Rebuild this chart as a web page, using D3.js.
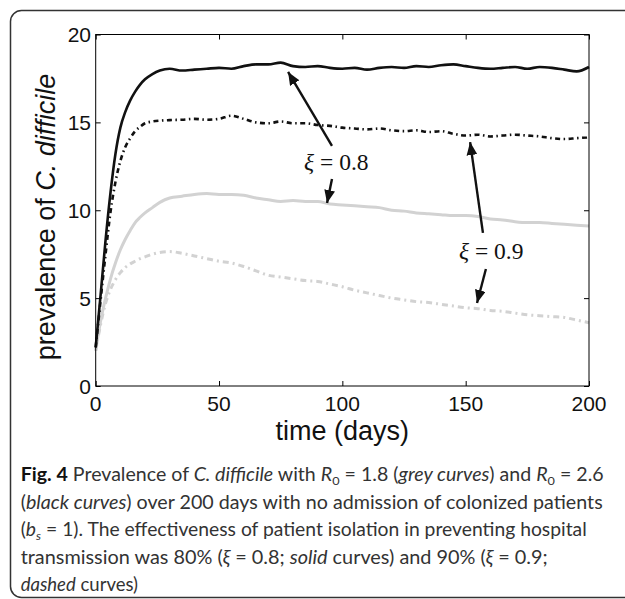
<!DOCTYPE html>
<html>
<head>
<meta charset="utf-8">
<script src="https://cdn.jsdelivr.net/npm/d3@7"></script>
<style>
  body { margin: 0; background: #fff; }
  svg { display: block; }
  .axis-frame { fill: none; stroke: #000; stroke-width: 1; }
  .tick-label { font-family: "Liberation Sans", Arial, sans-serif; font-size: 21px; fill: #111; }
  .axis-title { font-family: "Liberation Sans", Arial, sans-serif; font-size: 27px; fill: #111; }
  .note { font-family: "Liberation Serif", "DejaVu Serif", serif; font-size: 23.5px; fill: #111; }
  .caption { font-family: Lato, "Open Sans", sans-serif; font-size: 18.5px; fill: #333; }
</style>
</head>
<body>
<svg width="625" height="599"></svg>
<script>
// time points (days)
var days = [0, 2, 4, 6, 8, 10, 12, 14, 16, 18, 20, 23, 26, 30, 35, 40, 45, 50, 55, 60,
    65, 70, 75, 80, 85, 90, 95, 100, 105, 110, 115, 120, 125, 130, 135, 140, 145, 150,
    155, 160, 165, 170, 175, 180, 185, 190, 195, 200];

// R0 = 2.6, xi = 0.8 (black solid)
var blackSolid = [2.2, 5.2, 8.3, 11.0, 13.2, 14.7, 15.6, 16.25, 16.75, 17.15, 17.45, 17.75, 17.95, 18.05, 17.95, 18.0,
    18.05, 18.1, 18.05, 18.2, 18.3, 18.3, 18.4, 18.2, 18.15, 18.2, 18.1, 18.05, 18.1, 18.0, 18.1, 18.15,
    18.1, 18.2, 18.15, 18.25, 18.3, 18.2, 18.1, 18.05, 18.1, 18.15, 18.05, 18.15, 18.1, 18.0, 17.9, 18.15];

// R0 = 2.6, xi = 0.9 (black dashed)
var blackDashed = [2.2, 4.9, 7.5, 9.9, 11.6, 12.8, 13.6, 14.1, 14.5, 14.75, 14.95, 15.05, 15.1, 15.13, 15.15, 15.2,
    15.15, 15.2, 15.38, 15.2, 15.0, 14.95, 15.05, 14.95, 14.95, 14.85, 14.8, 14.7, 14.65, 14.6, 14.65, 14.55,
    14.5, 14.55, 14.45, 14.5, 14.35, 14.25, 14.3, 14.2, 14.25, 14.3, 14.25, 14.2, 14.1, 14.05, 14.1, 14.15];

// R0 = 1.8, xi = 0.8 (grey solid)
var greySolid = [2.0, 3.7, 5.0, 6.1, 7.0, 7.75, 8.35, 8.85, 9.3, 9.6, 9.85, 10.15, 10.45, 10.7, 10.8, 10.9,
    10.95, 10.9, 10.9, 10.85, 10.7, 10.6, 10.5, 10.55, 10.5, 10.5, 10.35, 10.3, 10.25, 10.2, 10.15, 10.0,
    9.95, 9.85, 9.8, 9.75, 9.7, 9.7, 9.65, 9.5, 9.45, 9.35, 9.3, 9.3, 9.25, 9.2, 9.15, 9.1];

// R0 = 1.8, xi = 0.9 (grey dashed)
var greyDashed = [2.0, 3.5, 4.7, 5.5, 6.05, 6.45, 6.75, 6.95, 7.1, 7.25, 7.35, 7.5, 7.6, 7.65, 7.55, 7.4,
    7.25, 7.1, 7.0, 6.8, 6.55, 6.3, 6.2, 6.1, 6.0, 5.95, 5.8, 5.65, 5.45, 5.3, 5.15, 5.0,
    4.9, 4.8, 4.75, 4.65, 4.55, 4.45, 4.4, 4.3, 4.25, 4.15, 4.05, 4.0, 3.95, 3.9, 3.75, 3.6];

var xTicks = [0, 50, 100, 150, 200];
var yTicks = [0, 5, 10, 15, 20];

// annotation arrows in data units: [fromDay, fromValue, tipDay, tipValue]
var arrows = [
    [95.8, 13.66, 78.0, 17.87],
    [95.8, 11.78, 93.8, 10.41],
    [157.0, 8.71, 151.8, 13.88],
    [158.2, 6.66, 154.6, 4.72]
];
// annotation labels: [day, value, text]
var notes = [
    [84.5, 12.29, "0.8"],
    [147.3, 7.23, "0.9"]
];

var svg = d3.select('svg');

// outer rounded frame
svg.append('rect')
    .attr('x', 10.5).attr('y', 10.5)
    .attr('width', 640).attr('height', 587)
    .attr('rx', 11)
    .attr('fill', 'none')
    .attr('stroke', '#333')
    .attr('stroke-width', 1.5);

var margin = {top: 34.5, left: 95.7, right: 589, bottom: 386};

var xScale = d3.scaleLinear().domain([0, 200]).range([margin.left, margin.right]);
var yScale = d3.scaleLinear().domain([0, 20]).range([margin.bottom, margin.top]);

var chart = svg.append('g');

// series
var series = [
    {values: greyDashed, color: '#d2d2d2', width: 3, dash: '6,4,2,4'},
    {values: greySolid, color: '#d2d2d2', width: 3, dash: null},
    {values: blackDashed, color: '#111', width: 2.6, dash: '5,3.5,1.5,3.5'},
    {values: blackSolid, color: '#111', width: 2.6, dash: null}
];

var valueline = d3.line()
    .curve(d3.curveMonotoneX)
    .x(function(d) { return xScale(d[0]); })
    .y(function(d) { return yScale(d[1]); });

series.forEach(function(s) {
    chart.append('path')
        .datum(days.map(function(t, i) { return [t, s.values[i]]; }))
        .attr('d', valueline)
        .attr('fill', 'none')
        .attr('stroke', s.color)
        .attr('stroke-width', s.width)
        .attr('stroke-linejoin', 'round')
        .attr('stroke-dasharray', s.dash);
});

// axes box with inward ticks on all sides
chart.append('g')
    .attr('transform', `translate(0, ${margin.bottom})`)
    .call(d3.axisBottom(xScale).tickValues(xTicks).tickSizeInner(-5).tickSizeOuter(0).tickFormat(''))
    .call(g => g.select('.domain').remove());
chart.append('g')
    .attr('transform', `translate(0, ${margin.top})`)
    .call(d3.axisTop(xScale).tickValues(xTicks).tickSizeInner(-5).tickSizeOuter(0).tickFormat(''))
    .call(g => g.select('.domain').remove());
chart.append('g')
    .attr('transform', `translate(${margin.left}, 0)`)
    .call(d3.axisLeft(yScale).tickValues(yTicks).tickSizeInner(-5).tickSizeOuter(0).tickFormat(''))
    .call(g => g.select('.domain').remove());
chart.append('g')
    .attr('transform', `translate(${margin.right}, 0)`)
    .call(d3.axisRight(yScale).tickValues(yTicks).tickSizeInner(-5).tickSizeOuter(0).tickFormat(''))
    .call(g => g.select('.domain').remove());
chart.selectAll('.tick line').attr('stroke', '#000');

chart.append('rect')
    .attr('class', 'axis-frame')
    .attr('x', margin.left).attr('y', margin.top)
    .attr('width', margin.right - margin.left)
    .attr('height', margin.bottom - margin.top);

// tick labels
chart.selectAll('.xlab').data(xTicks).enter().append('text')
    .attr('class', 'tick-label')
    .attr('x', d => xScale(d))
    .attr('y', 411)
    .attr('text-anchor', 'middle')
    .text(d => d);
chart.selectAll('.ylab').data(yTicks).enter().append('text')
    .attr('class', 'tick-label')
    .attr('x', 91)
    .attr('y', d => yScale(d))
    .attr('dy', '0.36em')
    .attr('text-anchor', 'end')
    .text(d => d);

// axis titles
svg.append('text')
    .attr('class', 'axis-title')
    .attr('x', (margin.left + margin.right) / 2)
    .attr('y', 440)
    .attr('text-anchor', 'middle')
    .text('time (days)');

var ylab = svg.append('text')
    .attr('class', 'axis-title')
    .attr('transform', 'translate(55, 217) rotate(-90)')
    .attr('text-anchor', 'middle');
ylab.append('tspan').text('prevalence of ');
ylab.append('tspan').style('font-style', 'italic').text('C. difficile');

// arrows
var defs = svg.append('defs');
defs.append('marker')
    .attr('id', 'head')
    .attr('viewBox', '0 0 12 10')
    .attr('refX', 12).attr('refY', 5)
    .attr('markerUnits', 'userSpaceOnUse')
    .attr('markerWidth', 13).attr('markerHeight', 11)
    .attr('orient', 'auto')
    .append('path')
    .attr('d', 'M0,0 L12,5 L0,10 Z')
    .attr('fill', '#111');

chart.selectAll('.arrow').data(arrows).enter().append('line')
    .attr('x1', d => xScale(d[0])).attr('y1', d => yScale(d[1]))
    .attr('x2', d => xScale(d[2])).attr('y2', d => yScale(d[3]))
    .attr('stroke', '#111')
    .attr('stroke-width', 2.4)
    .attr('marker-end', 'url(#head)');

notes.forEach(function(n) {
    var t = chart.append('text')
        .attr('class', 'note')
        .attr('x', xScale(n[0]))
        .attr('y', yScale(n[1]));
    t.append('tspan').style('font-style', 'italic').text('\u03BE');
    t.append('tspan').text(' = ' + n[2]);
});

// caption
var capX = 20.7;
var capLines = [
    {y: 481, len: 583, parts: [['Fig. 4', 'b'], [' Prevalence of '], ['C. difficile', 'i'], [' with '], ['R', 'i'], ['0', 'sub'],
        [' = 1.8 ('], ['grey curves', 'i'], [') and '], ['R', 'i'], ['0', 'sub'], [' = 2.6']]},
    {y: 508.5, len: 582, parts: [['('], ['black curves', 'i'], [') over 200 days with no admission of colonized patients']]},
    {y: 536, len: 566, parts: [['('], ['b', 'i'], ['s', 'isub'], [' = 1). The effectiveness of patient isolation in preventing hospital']]},
    {y: 563.5, len: 527, parts: [['transmission was 80% ('], ['\u03BE', 'i'], [' = 0.8; '], ['solid', 'i'], [' curves) and 90% ('], ['\u03BE', 'i'], [' = 0.9;']]},
    {y: 591, len: null, parts: [['dashed', 'i'], [' curves)']]}
];

capLines.forEach(function(line) {
    var t = svg.append('text')
        .attr('class', 'caption')
        .attr('x', capX)
        .attr('y', line.y);
    if (line.len) t.attr('textLength', line.len).attr('lengthAdjust', 'spacingAndGlyphs');
    var shifted = false;
    line.parts.forEach(function(p) {
        var s = t.append('tspan').text(p[0]);
        var style = p[1];
        if (style == 'b') s.style('font-weight', 'bold').style('fill', '#111');
        if (style == 'i' || style == 'isub') s.style('font-style', 'italic');
        if (style == 'sub' || style == 'isub') {
            s.attr('dy', 4).style('font-size', '12px');
            shifted = true;
        } else if (shifted) {
            s.attr('dy', -4);
            shifted = false;
        }
    });
});
</script>
</body>
</html>
